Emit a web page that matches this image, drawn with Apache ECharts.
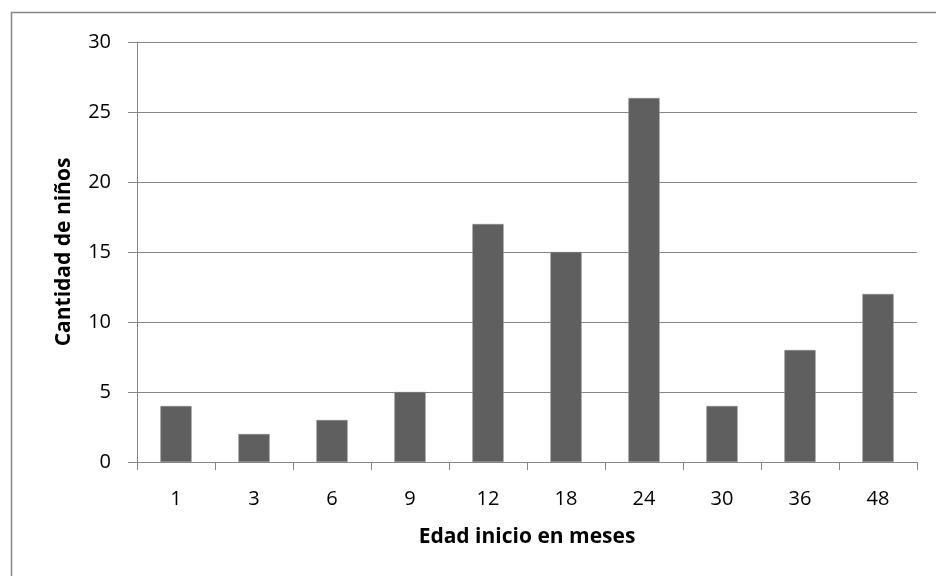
<!DOCTYPE html>
<html><head><meta charset="utf-8">
<script src="https://cdn.jsdelivr.net/npm/echarts@6/dist/echarts.min.js"></script>
<style>html,body{margin:0;padding:0;background:#fff}#c{width:936px;height:576px}</style>
</head><body><div id="c"></div>
<script>
const categories = ['1','3','6','9','12','18','24','30','36','48'];
const values = [4,2,3,5,17,15,26,4,8,12];
const xTitle = 'Edad inicio en meses';
const yTitle = 'Cantidad de niños';
const FONT = '"Open Sans", sans-serif';
const chart = echarts.init(document.getElementById('c'), null, {renderer:'canvas'});
chart.setOption({
  backgroundColor:'#fff',
  animation:false,
  graphic:[{type:'rect', shape:{x:11.5,y:12.5,width:2000,height:2000}, style:{fill:'none',stroke:'#868686',lineWidth:1.5}}],
  grid:{left:137,right:19,top:42,bottom:114},
  xAxis:{type:'category',data:categories,
    name:xTitle,nameLocation:'middle',nameGap:65,
    nameTextStyle:{fontFamily:FONT,fontWeight:'bold',fontSize:21,color:'#000'},
    axisLine:{lineStyle:{color:'#868686',width:1}},
    axisTick:{show:true,length:8,lineStyle:{color:'#868686'}},
    axisLabel:{fontFamily:FONT,fontSize:20,color:'#000',margin:27}},
  yAxis:{type:'value',min:0,max:30,interval:5,
    name:yTitle,nameLocation:'middle',nameGap:62,
    nameTextStyle:{fontFamily:FONT,fontWeight:'bold',fontSize:21,color:'#000'},
    axisLine:{show:true,lineStyle:{color:'#868686',width:1}},
    axisTick:{show:true,length:9,lineStyle:{color:'#868686'}},
    splitLine:{lineStyle:{color:'#868686',width:1}},
    axisLabel:{fontFamily:FONT,fontSize:20,color:'#000',margin:26}},
  series:[{type:'bar',data:values,barCategoryGap:'60%',
    itemStyle:{color:'#5f5f5f',borderColor:'#8c8c8c',borderWidth:0.5}}]
});
</script></body></html>
